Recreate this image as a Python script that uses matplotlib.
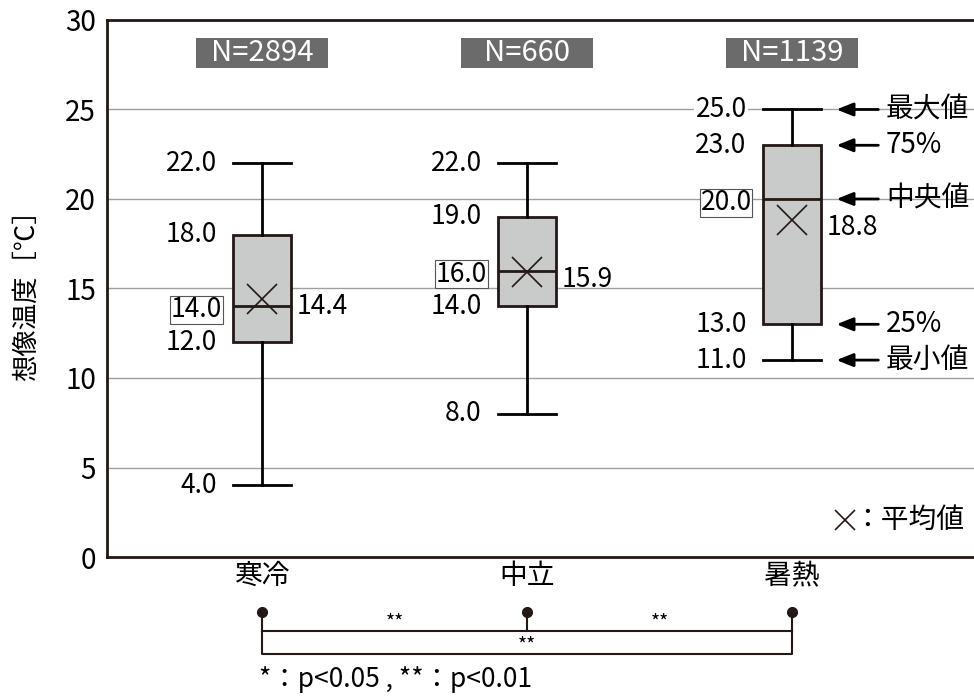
import numpy as np
import matplotlib
matplotlib.use("Agg")
import matplotlib.pyplot as plt
from matplotlib.patches import Rectangle

plt.rcParams['font.family'] = ['Noto Sans CJK JP', 'DejaVu Sans']

# data
groups = ['寒冷', '中立', '暑熱']
n_counts = [2894, 660, 1139]
maxs = [22.0, 22.0, 25.0]
q3s = [18.0, 19.0, 23.0]
medians = [14.0, 16.0, 20.0]
q1s = [12.0, 14.0, 13.0]
mins = [4.0, 8.0, 11.0]
means = [14.4, 15.9, 18.8]
guide_labels = ['最大値', '75%', '中央値', '25%', '最小値']

ink = '#231815'
positions = np.arange(len(groups))
w = 0.222

fig = plt.figure(figsize=(9.74, 6.96), dpi=100)
ax = fig.add_axes([0.1099, 0.1997, 0.8901, 0.7716])

stats = []
for i in range(len(groups)):
    stats.append(dict(med=medians[i], q1=q1s[i], q3=q3s[i],
                      whislo=mins[i], whishi=maxs[i], fliers=[]))

ax.bxp(stats, positions=positions, widths=w, capwidths=w, patch_artist=True,
       showfliers=False,
       boxprops=dict(facecolor='#c9caca', edgecolor=ink, linewidth=2),
       medianprops=dict(color=ink, linewidth=2),
       whiskerprops=dict(color='black', linewidth=2),
       capprops=dict(color='black', linewidth=2), zorder=3)

ax.plot(positions, means, linestyle='none', marker='x', markersize=21,
        markeredgewidth=1.2, color=ink, zorder=4)

ax.set_xlim(-0.585, 2.687)
ax.set_ylim(0, 30)
ax.set_yticks(np.arange(0, 31, 5))
ax.set_xticks(positions)
ax.set_xticklabels(groups, fontsize=20)
ax.tick_params(axis='y', length=0, pad=8, labelsize=20)
ax.tick_params(axis='x', length=0, pad=3)
ax.yaxis.grid(True, color='#9f9f9f', linewidth=1)
ax.set_axisbelow(True)
for s in ['left', 'bottom', 'top']:
    ax.spines[s].set_color(ink)
    ax.spines[s].set_linewidth(2)
ax.spines['right'].set_visible(False)
ax.set_ylabel('想像温度［℃］', fontsize=19, labelpad=18)

lab_fs = 19
for i, x in enumerate(positions):
    left = x - w / 2 - 0.06
    for v in [maxs[i], q3s[i], q1s[i], mins[i]]:
        ax.text(left, v, f'{v:.1f}', ha='right', va='center', fontsize=lab_fs,
                color='black', zorder=5,
                bbox=dict(facecolor='white', edgecolor='none', pad=1))
    ax.text(x - w / 2 - 0.04, medians[i] - 0.2, f'{medians[i]:.1f}', ha='right',
            va='center', fontsize=lab_fs, zorder=5,
            bbox=dict(facecolor='white', edgecolor='#555555', linewidth=0.8,
                      pad=0.3))
    ax.text(x + w / 2 + 0.02, means[i] - 0.4, f'{means[i]:.1f}', ha='left',
            va='center', fontsize=lab_fs, zorder=5)
    # N box
    ax.add_patch(Rectangle((x - 0.25, 27.3), 0.5, 1.68, facecolor='#6b6b6b',
                           edgecolor='none', zorder=5))
    ax.text(x, 28.14, f'N={n_counts[i]}', ha='center', va='center',
            fontsize=21, color='white', zorder=6)

# guide arrows on the right box
last = len(groups) - 1
guide_vals = [maxs[last], q3s[last], medians[last], q1s[last], mins[last]]
for v, lab in zip(guide_vals, guide_labels):
    ax.annotate('', xy=(2.168, v), xytext=(2.326, v),
                arrowprops=dict(arrowstyle='-|>,head_length=1.0,head_width=0.4',
                                color='black', lw=2, shrinkA=0, shrinkB=0),
                zorder=5)
    ax.text(2.355, v, lab, ha='left', va='center', fontsize=20, zorder=5)

# mean legend
ax.plot([2.2], [2.05], marker='x', markersize=15, markeredgewidth=1.2,
        color=ink, linestyle='none')
ax.text(2.232, 2.05, '：平均値', ha='left', va='center', fontsize=20)

# significance brackets below the axis
y_dot, y_top, y_bot = -3.07, -4.13, -5.42
for x in positions:
    ax.plot([x, x], [y_dot, y_top], color=ink, lw=1.5, clip_on=False)
ax.plot(positions, [y_dot] * 3, 'o', color=ink, markersize=7, clip_on=False)
ax.plot([0, 2], [y_top, y_top], color=ink, lw=1.5, clip_on=False)
ax.plot([0, 0, 2, 2], [y_top, y_bot, y_bot, y_top], color=ink, lw=1.5,
        clip_on=False)
ax.text(0.5, -3.7, '**', ha='center', va='center', fontsize=14)
ax.text(1.5, -3.7, '**', ha='center', va='center', fontsize=14)
ax.text(1.0, -4.95, '**', ha='center', va='center', fontsize=14)
ax.text(-0.01, -6.85, '*：p<0.05 , **：p<0.01', ha='left', va='center',
        fontsize=19)

fig.savefig('out.png', dpi=100)
